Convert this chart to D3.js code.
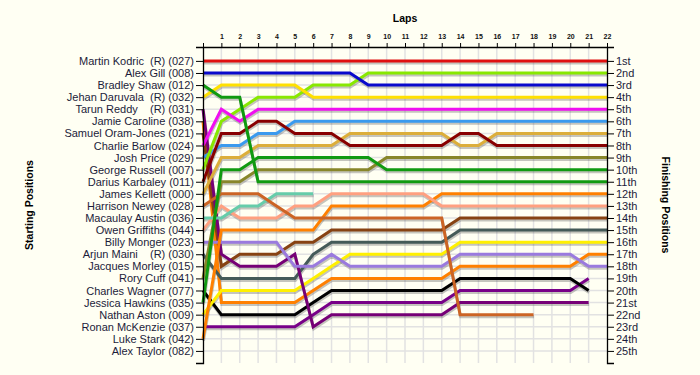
<!DOCTYPE html>
<html>
<head>
<meta charset="utf-8">
<script src="https://cdnjs.cloudflare.com/ajax/libs/d3/7.8.5/d3.min.js"></script>
<style>
  body { margin: 0; background: #fffff3; }
  text { font-family: "Liberation Sans", Arial, sans-serif; }
</style>
</head>
<body>
<div id="chart"></div>
<script>
var width = 700, height = 375

// starting grid, in order of starting position
var startingGrid = [
  'Martin Kodric  (R) (027)', 'Alex Gill (008)', 'Bradley Shaw (012)', 'Jehan Daruvala  (R) (032)',
  'Tarun Reddy    (R) (031)', 'Jamie Caroline (038)', 'Samuel Oram-Jones (021)', 'Charlie Barlow (024)',
  'Josh Price (029)', 'George Russell (007)', 'Darius Karbaley (011)', 'James Kellett (000)',
  'Harrison Newey (028)', 'Macaulay Austin (036)', 'Owen Griffiths (044)', 'Billy Monger (023)',
  'Arjun Maini    (R) (030)', 'Jacques Morley (015)', 'Rory Cuff (041)', 'Charles Wagner (077)',
  'Jessica Hawkins (035)', 'Nathan Aston (009)', 'Ronan McKenzie (037)', 'Luke Stark (042)',
  'Alex Taylor (082)'
]
var finishLabels = ['1st','2nd','3rd','4th','5th','6th','7th','8th','9th','10th','11th','12th','13th',
  '14th','15th','16th','17th','18th','19th','20th','21st','22nd','23rd','24th','25th']
var lapTicks = [0,1,2,3,4,5,6,7,8,9,10,11,12,13,14,15,16,17,18,19,20,21,22]

// one line per driver: position at lap 0..22 (null = not running)
var lineDrivers = ['Kodric','Gill','Shaw','Daruvala','Barlow','Russell','Karbaley','Price','Kellett',
  'Hawkins','Cuff','Newey','Austin','Griffiths','Stark','Monger','Reddy','Oram-Jones','Maini',
  'Aston','Caroline','Wagner','McKenzie']
var lineColors = ['#e01010','#0a0acc','#109a10','#ffe000','#f010f0','#88e800','#880000','#3a9aee','#dcae3a',
  '#109a10','#88862a','#cc6424','#66ccaa','#ffa080','#ff8000','#9a7ade','#760076','#874212','#445a58',
  '#fff000','#ff8000','#000000','#780088']
var lapPositions = [
  [1,1,1,1,1,1,1,1,1,1,1,1,1,1,1,1,1,1,1,1,1,1,1],
  [2,2,2,2,2,2,2,2,2,3,3,3,3,3,3,3,3,3,3,3,3,3,3],
  [3,4,4,11,11,11,11,11,11,11,11,11,11,11,11,11,11,11,11,11,11,11,11],
  [4,3,3,3,3,3,4,4,4,4,4,4,4,4,4,4,4,4,4,4,4,4,4],
  [8,5,6,5,5,5,5,5,5,5,5,5,5,5,5,5,5,5,5,5,5,5,5],
  [10,6,5,4,4,4,3,3,3,2,2,2,2,2,2,2,2,2,2,2,2,2,2],
  [11,7,7,6,6,7,7,7,8,8,8,8,8,8,7,7,8,8,8,8,8,8,8],
  [9,8,8,7,7,6,6,6,6,6,6,6,6,6,6,6,6,6,6,6,6,6,6],
  [12,9,9,8,8,8,8,8,7,7,7,7,7,7,8,8,7,7,7,7,7,7,7],
  [21,10,10,9,9,9,9,9,9,9,10,10,10,10,10,10,10,10,10,10,10,10,10],
  [19,11,11,10,10,10,10,10,10,10,9,9,9,9,9,9,9,9,9,9,9,9,9],
  [13,12,12,12,13,14,14,14,14,14,14,14,14,14,22,22,22,22,22,null,null,null,null],
  [14,14,13,13,12,12,12,null,null,null,null,null,null,null,null,null,null,null,null,null,null,null,null],
  [15,13,14,14,14,13,13,12,12,12,12,12,12,13,13,13,13,13,13,13,13,13,13],
  [24,15,15,15,15,15,15,13,13,13,13,13,13,12,12,12,12,12,12,12,12,12,12],
  [16,16,16,16,16,18,18,17,18,18,18,18,18,18,17,17,17,17,17,17,17,18,18],
  [5,17,18,18,18,17,23,22,22,22,22,22,22,22,21,21,21,21,21,21,21,21,null],
  [7,18,17,17,17,16,16,15,15,15,15,15,15,15,14,14,14,14,14,14,14,14,14],
  [17,19,19,19,19,19,17,16,16,16,16,16,16,16,15,15,15,15,15,15,15,15,15],
  [22,20,20,20,20,20,19,18,17,17,17,17,17,17,16,16,16,16,16,16,16,16,16],
  [6,21,21,21,21,21,20,19,19,19,19,19,19,19,18,18,18,18,18,18,18,17,17],
  [20,22,22,22,22,22,21,20,20,20,20,20,20,20,19,19,19,19,19,19,19,20,null],
  [23,23,23,23,23,23,22,21,21,21,21,21,21,21,20,20,20,20,20,20,20,19,null]
]

var svg = d3.select('#chart').append('svg')
    .attr('width', width).attr('height', height)
    .style('background', '#fffff3')

var x = d3.scaleLinear().domain([0, 22]).range([203, 607])
var y = d3.scaleLinear().domain([-0.15, 26]).range([47, 363])
var positions = d3.range(1, 26)

// grid
var grid = svg.append('g').attr('class', 'grid')
grid.selectAll('.vgrid').data(lapTicks.slice(1, -1)).enter().append('line')
    .attr('x1', d => x(d)).attr('x2', d => x(d))
    .attr('y1', y(-0.15)).attr('y2', y(26))
    .attr('stroke', '#e2e2e2').attr('stroke-width', 1.5)
grid.selectAll('.hgrid').data(positions).enter().append('line')
    .attr('x1', x(0)).attr('x2', x(22))
    .attr('y1', d => y(d)).attr('y2', d => y(d))
    .attr('stroke', '#e2e2e2').attr('stroke-width', 1.5)

// lap lines
var line = d3.line()
    .defined(d => d != null)
    .x((d, i) => x(i))
    .y(d => y(d))

var order = d3.range(lapPositions.length).reverse()
var lines = svg.append('g').attr('class', 'laps')
lines.selectAll('.shadow').data(order).enter().append('path')
    .attr('d', i => line(lapPositions[i]))
    .attr('transform', 'translate(0.5,2)')
    .attr('fill', 'none')
    .attr('stroke', 'rgba(90,90,90,0.35)')
    .attr('stroke-width', 3)
lines.selectAll('.lap').data(order).enter().append('path')
    .attr('d', i => line(lapPositions[i]))
    .attr('fill', 'none')
    .attr('stroke', i => lineColors[i])
    .attr('stroke-width', 3)

// axes
var axisTop = svg.append('g')
    .attr('transform', `translate(0,${y(-0.15)})`)
    .call(d3.axisTop(x).tickValues(lapTicks).tickSize(4).tickSizeOuter(0)
      .tickFormat(d => d === 0 ? '' : d))
axisTop.selectAll('text').attr('font-size', 7).attr('fill', '#111')
  .attr('font-weight', 'bold').attr('dy', '-0.1em')

var axisLeft = svg.append('g')
    .attr('transform', `translate(${x(0)},0)`)
    .call(d3.axisLeft(y).tickValues(positions).tickSize(7).tickSizeOuter(7)
      .tickFormat(d => startingGrid[d - 1]))
axisLeft.selectAll('text').attr('font-size', 11).attr('fill', '#1c1c3a')
  .attr('x', -9).style('white-space', 'pre')

var axisRight = svg.append('g')
    .attr('transform', `translate(${x(22)},0)`)
    .call(d3.axisRight(y).tickValues(positions).tickSize(7).tickSizeOuter(7)
      .tickFormat(d => finishLabels[d - 1]))
axisRight.selectAll('text').attr('font-size', 11).attr('fill', '#1c1c3a').attr('x', 9)

svg.selectAll('.domain').attr('stroke', '#000').attr('stroke-width', 1.3)
svg.selectAll('.tick line').attr('stroke', '#000')

// titles
svg.append('text').attr('x', 405).attr('y', 22).attr('text-anchor', 'middle')
    .attr('font-size', 10.5).attr('font-weight', 'bold').text('Laps')
svg.append('text').attr('transform', 'translate(33,205) rotate(-90)').attr('text-anchor', 'middle')
    .attr('font-size', 10.5).attr('font-weight', 'bold').text('Starting Positions')
svg.append('text').attr('transform', 'translate(662,205) rotate(90)').attr('text-anchor', 'middle')
    .attr('font-size', 10.5).attr('font-weight', 'bold').text('Finishing Positions')
</script>
</body>
</html>
